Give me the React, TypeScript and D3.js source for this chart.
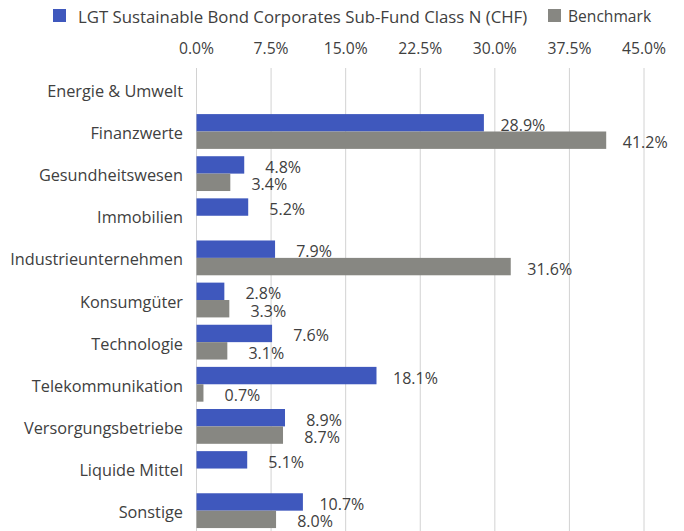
import React from "react";
import * as d3 from "d3";

const categories = [
  "Energie & Umwelt",
  "Finanzwerte",
  "Gesundheitswesen",
  "Immobilien",
  "Industrieunternehmen",
  "Konsumgüter",
  "Technologie",
  "Telekommunikation",
  "Versorgungsbetriebe",
  "Liquide Mittel",
  "Sonstige",
];
const fundValues: (number | null)[] = [null, 28.9, 4.8, 5.2, 7.9, 2.8, 7.6, 18.1, 8.9, 5.1, 10.7];
const benchValues: (number | null)[] = [null, 41.2, 3.4, null, 31.6, 3.3, 3.1, 0.7, 8.7, null, 8.0];
const tickValues = [0, 7.5, 15, 22.5, 30, 37.5, 45];
const seriesNames = ["LGT Sustainable Bond Corporates Sub-Fund Class N (CHF)", "Benchmark"];

const W = 684;
const H = 531;
const FONT = "'Open Sans', sans-serif";
const BLUE = "#3F58BD";
const GRAY = "#878782";
const TEXT = "#404040";

export default function App() {
  const x = d3.scaleLinear().domain([0, 45]).range([196.5, 644]);
  const y = d3
    .scaleBand<string>()
    .domain(categories)
    .range([68.3, 68.3 + 11 * 42.13])
    .paddingInner(0.174)
    .paddingOuter(0.087);
  const bw = y.bandwidth();
  const half = bw / 2;

  return (
    <svg
      width={W}
      height={H}
      style={{ position: "absolute", left: 0, top: 0, background: "#fff" }}
      fontFamily={FONT}
    >
      {/* legend */}
      <rect x={53} y={9} width={13} height={13} fill={BLUE} />
      <text x={78} y={16} dominantBaseline="central" fontSize={16.8} fill={TEXT}>
        {seriesNames[0]}
      </text>
      <rect x={548} y={9} width={13} height={13} fill={GRAY} />
      <text x={568} y={16} dominantBaseline="central" fontSize={15.6} fill={TEXT}>
        {seriesNames[1]}
      </text>

      {/* gridlines and tick labels */}
      {tickValues.map((t) => (
        <g key={t}>
          <line x1={x(t)} x2={x(t)} y1={68} y2={H} stroke="#D2D2D2" strokeWidth={1} />
          <text
            x={x(t)}
            y={48}
            textAnchor="middle"
            dominantBaseline="central"
            fontSize={15.7}
            fill={TEXT}
          >
            {t.toFixed(1) + "%"}
          </text>
        </g>
      ))}

      {/* category labels */}
      {categories.map((c) => (
        <text
          key={c}
          x={183}
          y={(y(c) as number) + half + 1.5}
          textAnchor="end"
          dominantBaseline="central"
          fontSize={16.3}
          fill={TEXT}
        >
          {c}
        </text>
      ))}

      {/* bars */}
      {categories.map((c, i) => {
        const top = y(c) as number;
        const f = fundValues[i];
        const b = benchValues[i];
        return (
          <g key={c}>
            {f !== null && (
              <>
                <rect x={x(0)} y={top} width={x(f) - x(0)} height={half} fill={BLUE} />
                <text
                  x={x(f) + 39}
                  y={top + half / 2 + 2}
                  textAnchor="middle"
                  dominantBaseline="central"
                  fontSize={16}
                  fill={TEXT}
                >
                  {f.toFixed(1) + "%"}
                </text>
              </>
            )}
            {b !== null && (
              <>
                <rect x={x(0)} y={top + half} width={x(b) - x(0)} height={half} fill={GRAY} />
                <text
                  x={x(b) + 39}
                  y={top + half + half / 2 + 2}
                  textAnchor="middle"
                  dominantBaseline="central"
                  fontSize={16}
                  fill={TEXT}
                >
                  {b.toFixed(1) + "%"}
                </text>
              </>
            )}
          </g>
        );
      })}
    </svg>
  );
}
